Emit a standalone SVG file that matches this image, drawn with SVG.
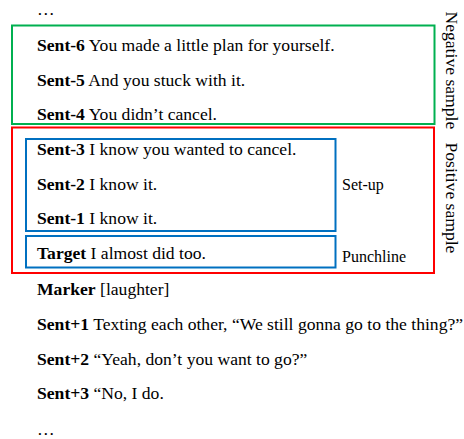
<svg xmlns="http://www.w3.org/2000/svg" width="464" height="439" viewBox="0 0 464 439">
  <style>
    text { font-family: "Liberation Serif", "Times New Roman", serif; font-size: 17.6px; fill: #000; }
    .b { font-weight: bold; }
    .tag { font-size: 16px; }
    .box { fill: none; stroke-width: 2; }
    .neg { stroke: #00B050; }
    .pos { stroke: #FF0000; }
    .grp { stroke: #0070C0; }
  </style>
  <rect width="464" height="439" fill="#fff"/>

  <!-- bracketing boxes -->
  <g id="boxes">
    <rect id="negative-box" class="box neg" x="12" y="25.5" width="422.5" height="98.5"/>
    <rect id="positive-box" class="box pos" x="12" y="127.5" width="422" height="145.5"/>
    <rect id="setup-box" class="box grp" x="26" y="139" width="309.5" height="92"/>
    <rect id="punchline-box" class="box grp" x="26" y="236" width="309.5" height="31.5"/>
  </g>

  <!-- dialogue lines -->
  <g id="lines">
    <text x="37" y="15">…</text>
    <text x="37" y="51"><tspan class="b">Sent-6</tspan> You made a little plan for yourself.</text>
    <text x="37" y="85.5"><tspan class="b">Sent-5</tspan> And you stuck with it.</text>
    <text x="37" y="120"><tspan class="b">Sent-4</tspan> You didn’t cancel.</text>
    <text x="37" y="155"><tspan class="b">Sent-3</tspan> I know you wanted to cancel.</text>
    <text x="37" y="190"><tspan class="b">Sent-2</tspan> I know it.</text>
    <text x="37" y="224"><tspan class="b">Sent-1</tspan> I know it.</text>
    <text x="37" y="258.5"><tspan class="b">Target</tspan> I almost did too.</text>
    <text x="37" y="295"><tspan class="b">Marker</tspan> [laughter]</text>
    <text x="37" y="330"><tspan class="b">Sent+1</tspan> Texting each other, “We still gonna go to the thing?”</text>
    <text x="37" y="364.5"><tspan class="b">Sent+2</tspan> “Yeah, don’t you want to go?”</text>
    <text x="37" y="399"><tspan class="b">Sent+3</tspan> “No, I do.</text>
    <text x="37" y="435">…</text>
  </g>

  <!-- side labels -->
  <g id="labels">
    <text class="tag" x="342" y="190">Set-up</text>
    <text class="tag" x="342" y="262">Punchline</text>
    <text transform="translate(446,11.5) rotate(90)">Negative sample</text>
    <text transform="translate(446,142.5) rotate(90)">Positive sample</text>
  </g>
</svg>
